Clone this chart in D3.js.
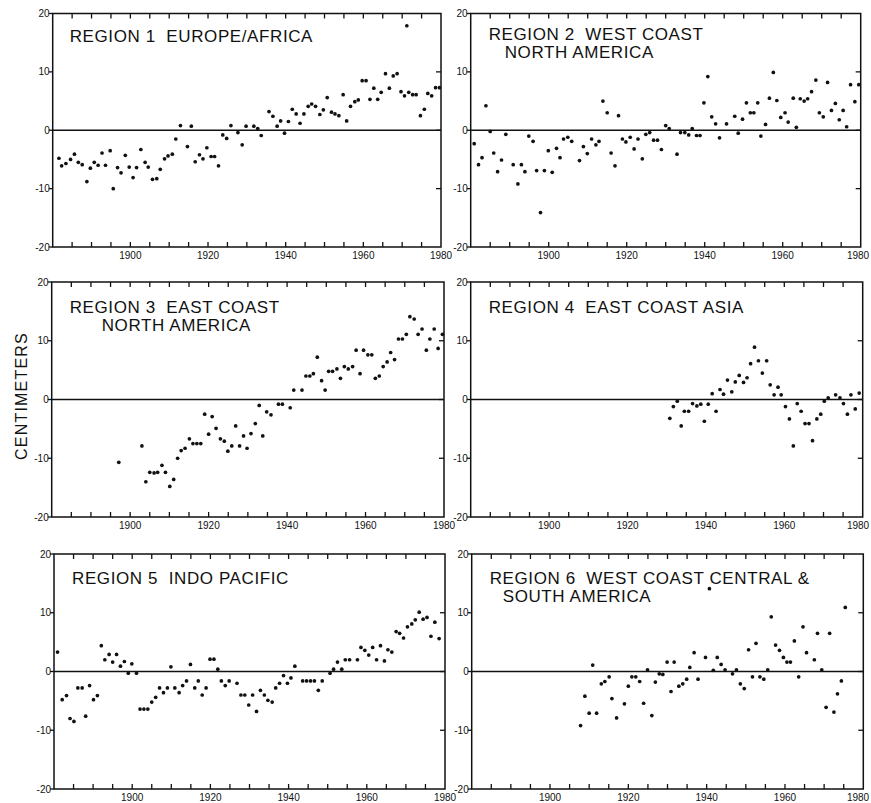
<!DOCTYPE html>
<html><head><meta charset="utf-8">
<script src="https://cdn.jsdelivr.net/npm/d3@7"></script>
<style>
body{margin:0;background:#fff}
svg{display:block}
text{font-family:"Liberation Sans",Arial,Helvetica,sans-serif;fill:#111}
</style>
</head><body><svg id="c" width="871" height="803"></svg>
<script>
// ---- data ----
const yearDomain = [1880, 1980];
const valueDomain = [-20, 20];
const labelYears = [1900, 1920, 1940, 1960, 1980];
const minorYears = d3.range(1885, 1980, 5);
const valueTicks = [-20, -10, 0, 10, 20];
const sideTicks = [-10, 0, 10];

const region1 = [[1881.6,-4.8],[1882.3,-6.1],[1883.4,-5.7],[1884.6,-5.0],[1885.6,-4.1],[1886.6,-5.5],[1887.6,-5.9],[1888.8,-8.8],[1889.7,-6.5],[1890.7,-5.5],[1891.7,-6.0],[1892.7,-3.9],[1893.6,-6.0],[1894.8,-3.5],[1895.6,-10.0],[1896.7,-6.4],[1897.6,-7.3],[1898.7,-4.3],[1899.7,-6.3],[1900.7,-8.1],[1901.6,-6.4],[1902.7,-3.3],[1903.8,-5.5],[1904.6,-6.3],[1905.7,-8.4],[1906.8,-8.3],[1907.7,-6.7],[1908.8,-4.9],[1909.7,-4.4],[1910.8,-4.1],[1911.7,-1.5],[1912.9,0.8],[1914.7,-2.8],[1915.7,0.7],[1916.7,-5.4],[1917.8,-4.2],[1918.7,-4.9],[1919.7,-3.0],[1920.8,-4.5],[1921.7,-4.5],[1922.7,-6.1],[1923.8,-0.8],[1924.8,-1.4],[1925.9,0.8],[1927.7,-0.4],[1928.8,-2.5],[1929.8,0.7],[1931.8,0.7],[1932.8,0.3],[1933.7,-0.9],[1935.7,3.2],[1936.7,2.4],[1937.8,0.7],[1938.7,1.6],[1939.7,-0.5],[1940.7,1.5],[1941.7,3.6],[1942.7,2.8],[1943.7,1.2],[1944.7,2.8],[1945.8,4.1],[1946.7,4.5],[1947.7,4.1],[1948.8,2.7],[1949.7,3.5],[1950.7,5.6],[1951.8,3.1],[1952.7,2.8],[1953.7,2.5],[1954.8,6.1],[1955.7,1.6],[1956.7,4.1],[1957.8,4.9],[1958.7,5.2],[1959.7,8.5],[1960.7,8.5],[1961.7,5.3],[1962.7,7.2],[1963.7,5.3],[1964.6,6.5],[1965.7,9.7],[1966.7,7.2],[1967.7,9.3],[1968.7,9.7],[1969.7,6.6],[1970.6,5.9],[1971.2,17.9],[1971.7,6.5],[1972.7,6.1],[1973.6,6.1],[1974.7,2.5],[1975.7,3.6],[1976.6,6.3],[1977.6,5.9],[1978.6,7.3],[1979.6,7.3]];

const region2 = [[1880.9,-2.3],[1882.0,-5.9],[1882.9,-4.7],[1883.9,4.2],[1885.0,-0.2],[1885.9,-3.9],[1886.9,-7.1],[1887.9,-5.1],[1889.0,-0.7],[1890.9,-5.9],[1892.1,-9.2],[1893.0,-5.9],[1893.9,-7.1],[1894.9,-1.0],[1896.0,-1.9],[1896.9,-6.9],[1897.9,-14.1],[1898.9,-6.9],[1899.9,-3.5],[1900.9,-7.2],[1902.0,-3.1],[1902.9,-4.7],[1903.8,-1.5],[1904.9,-1.2],[1905.9,-1.9],[1907.9,-5.2],[1908.9,-2.8],[1909.9,-4.0],[1911.0,-1.5],[1912.1,-2.5],[1912.9,-1.9],[1913.9,5.0],[1915.0,3.0],[1916.0,-3.9],[1917.0,-6.1],[1917.9,2.5],[1918.9,-1.5],[1919.8,-2.0],[1920.9,-1.2],[1921.9,-3.2],[1922.9,-1.5],[1924.0,-4.9],[1924.9,-0.7],[1925.9,-0.4],[1926.9,-1.7],[1927.9,-1.7],[1928.9,-3.3],[1930.0,0.8],[1930.9,0.3],[1932.9,-4.1],[1933.8,-0.4],[1934.9,-0.4],[1935.9,-0.8],[1936.8,0.3],[1937.9,-0.9],[1938.8,-0.9],[1939.8,4.7],[1940.8,9.2],[1941.8,2.3],[1942.8,1.1],[1943.8,-1.3],[1945.6,1.1],[1947.7,2.4],[1948.6,-0.5],[1949.7,1.9],[1950.7,4.7],[1951.7,3.0],[1952.6,3.0],[1953.6,4.7],[1954.4,-1.0],[1955.6,1.0],[1956.6,5.5],[1957.6,9.9],[1958.5,5.1],[1959.5,2.2],[1960.6,3.0],[1961.4,1.4],[1962.7,5.5],[1963.5,0.5],[1964.5,5.4],[1965.5,5.0],[1966.4,5.4],[1967.4,6.6],[1968.5,8.6],[1969.4,3.0],[1970.4,2.3],[1971.5,8.2],[1972.5,3.4],[1973.5,4.6],[1974.5,1.8],[1975.5,3.4],[1976.4,0.6],[1977.4,7.8],[1978.5,4.9],[1979.5,7.8]];

const region3 = [[1897.1,-10.7],[1903.0,-7.9],[1904.0,-14.0],[1905.0,-12.4],[1906.1,-12.5],[1907.0,-12.4],[1908.1,-11.2],[1909.0,-12.4],[1910.1,-14.8],[1911.1,-13.6],[1912.1,-10.0],[1913.0,-8.7],[1914.0,-8.3],[1915.1,-6.7],[1916.0,-7.5],[1917.0,-7.5],[1918.0,-7.5],[1919.0,-2.5],[1920.0,-5.9],[1920.9,-2.9],[1921.9,-4.9],[1923.0,-6.7],[1924.0,-7.1],[1924.9,-8.8],[1925.9,-7.9],[1926.9,-4.5],[1927.9,-7.9],[1928.9,-6.2],[1929.8,-8.3],[1930.8,-5.8],[1931.9,-4.1],[1932.9,-1.0],[1933.8,-6.2],[1934.8,-2.1],[1935.9,-2.6],[1937.8,-0.8],[1938.8,-0.8],[1940.8,-1.4],[1941.7,1.6],[1943.8,1.6],[1944.8,4.0],[1945.8,4.0],[1946.7,4.4],[1947.7,7.2],[1948.8,3.2],[1949.7,1.6],[1950.6,4.8],[1951.6,4.8],[1952.7,5.2],[1953.6,3.6],[1954.6,5.6],[1955.6,5.2],[1956.7,5.6],[1957.6,8.4],[1958.6,4.4],[1959.5,8.4],[1960.6,7.6],[1961.6,7.6],[1962.5,3.6],[1963.5,4.0],[1964.5,5.6],[1965.5,6.4],[1966.4,8.0],[1967.4,6.8],[1968.4,10.3],[1969.4,10.3],[1970.4,11.1],[1971.3,14.1],[1972.4,13.7],[1973.4,11.1],[1974.4,12.0],[1975.5,8.4],[1976.4,10.3],[1977.5,12.0],[1978.5,8.7],[1979.6,11.1]];

const region4 = [[1930.8,-3.2],[1931.7,-1.2],[1932.7,-0.3],[1933.7,-4.5],[1934.5,-2.0],[1935.6,-2.0],[1936.6,-0.7],[1937.7,-1.1],[1938.7,-0.8],[1939.6,-3.7],[1940.6,-0.8],[1941.6,1.0],[1942.6,-2.0],[1943.6,1.7],[1944.5,0.9],[1945.5,3.3],[1946.6,1.3],[1947.5,3.0],[1948.5,4.1],[1949.6,2.9],[1950.5,3.7],[1951.4,6.1],[1952.4,8.9],[1953.4,6.6],[1954.4,4.5],[1955.5,6.6],[1956.4,2.5],[1957.4,0.8],[1958.4,2.1],[1959.2,0.8],[1960.3,-1.2],[1961.3,-3.3],[1962.3,-7.9],[1963.3,-0.7],[1964.3,-2.0],[1965.3,-4.1],[1966.3,-4.1],[1967.2,-7.0],[1968.3,-3.3],[1969.3,-2.5],[1970.2,-0.3],[1971.2,0.3],[1973.1,0.8],[1974.2,0.3],[1975.1,-0.7],[1976.1,-2.5],[1977.0,0.8],[1978.1,-1.6],[1979.1,1.1]];

const region5 = [[1880.9,3.3],[1882.1,-4.8],[1883.2,-4.1],[1884.1,-8.0],[1885.1,-8.5],[1886.1,-2.8],[1887.2,-2.8],[1888.1,-7.6],[1889.1,-2.4],[1890.1,-4.8],[1891.1,-4.1],[1892.1,4.4],[1893.0,2.0],[1894.1,2.9],[1895.0,1.6],[1896.0,2.9],[1897.0,0.9],[1898.0,1.7],[1899.0,-0.3],[1899.9,1.3],[1901.1,-0.3],[1902.0,-6.4],[1903.0,-6.4],[1904.0,-6.4],[1905.0,-5.2],[1906.0,-4.4],[1907.0,-2.8],[1908.0,-3.6],[1909.0,-2.8],[1909.9,0.8],[1910.9,-2.8],[1912.0,-3.6],[1912.9,-2.4],[1913.9,-1.6],[1914.9,1.2],[1916.0,-2.8],[1916.9,-1.6],[1917.9,-4.0],[1918.9,-2.8],[1919.9,2.1],[1920.9,2.1],[1921.9,0.4],[1922.8,-1.6],[1923.8,-2.4],[1924.8,-1.6],[1926.8,-2.0],[1927.8,-4.0],[1928.8,-4.0],[1929.8,-5.7],[1930.8,-4.0],[1931.8,-6.8],[1932.8,-3.2],[1933.8,-4.0],[1934.7,-4.9],[1935.8,-5.2],[1936.7,-2.8],[1937.7,-2.0],[1938.7,-0.7],[1939.7,-2.0],[1940.6,-1.1],[1941.6,0.9],[1943.6,-1.6],[1944.6,-1.6],[1945.6,-1.6],[1946.6,-1.6],[1947.6,-3.2],[1948.6,-1.6],[1950.6,-0.3],[1951.5,0.4],[1952.5,1.6],[1953.6,0.4],[1954.5,2.0],[1955.6,2.0],[1957.6,2.0],[1958.5,4.1],[1959.5,3.6],[1960.5,2.8],[1961.5,4.1],[1962.5,2.0],[1963.5,4.4],[1964.5,1.8],[1965.4,3.7],[1966.4,3.3],[1967.5,6.8],[1968.4,6.5],[1969.4,5.7],[1970.4,7.6],[1971.5,8.1],[1972.4,8.8],[1973.4,10.1],[1974.4,8.9],[1975.4,9.2],[1976.4,6.0],[1977.4,8.4],[1978.5,5.6]];

const region6 = [[1907.8,-9.2],[1908.9,-4.2],[1910.0,-7.1],[1910.9,1.1],[1911.9,-7.1],[1913.1,-2.1],[1914.0,-1.7],[1915.1,-0.9],[1915.8,-4.6],[1917.0,-7.9],[1919.0,-5.5],[1920.0,-2.5],[1920.9,-0.9],[1921.9,-0.9],[1922.9,-1.7],[1923.9,-5.4],[1924.9,0.3],[1926.0,-7.5],[1926.9,-1.8],[1927.9,-0.4],[1928.8,-0.5],[1929.9,1.6],[1930.9,-3.4],[1931.7,1.6],[1932.9,-2.5],[1933.9,-2.1],[1934.9,-1.3],[1935.7,0.7],[1936.8,3.2],[1937.8,-1.3],[1939.7,2.4],[1940.7,14.1],[1941.7,0.2],[1942.7,2.4],[1943.7,1.2],[1944.7,0.3],[1946.6,-0.4],[1947.6,0.3],[1948.6,-2.1],[1949.6,-2.9],[1950.7,3.7],[1951.7,-0.9],[1952.6,4.8],[1953.6,-0.9],[1954.6,-1.3],[1955.6,0.3],[1956.5,9.3],[1957.6,4.5],[1958.6,3.6],[1959.6,2.4],[1960.5,1.6],[1961.4,1.6],[1962.4,5.2],[1963.5,-0.9],[1964.6,7.6],[1965.5,3.2],[1967.5,2.0],[1968.3,6.5],[1969.4,0.3],[1970.5,-6.1],[1971.4,6.5],[1972.5,-6.9],[1973.4,-3.8],[1974.4,-1.6],[1975.4,10.9]];

const titles = [
  ["REGION 1  EUROPE/AFRICA"],
  ["REGION 2  WEST COAST", "NORTH AMERICA"],
  ["REGION 3  EAST COAST", "NORTH AMERICA"],
  ["REGION 4  EAST COAST ASIA"],
  ["REGION 5  INDO PACIFIC"],
  ["REGION 6  WEST COAST CENTRAL &", "SOUTH AMERICA"]
];
const yAxisTitle = "CENTIMETERS";

// ---- layout ----
const W = 871;
const panels = [
  {x0:52.7, x1:441,   y0:13.5,  y1:247,   data:region1, title:titles[0], tx:17, ty:28.5, indent:0},
  {x0:470.7,x1:860.7, y0:13.5,  y1:247,   data:region2, title:titles[1], tx:18, ty:26,   indent:16},
  {x0:51.7, x1:444,   y0:282,   y1:517,   data:region3, title:titles[2], tx:18, ty:30.5, indent:32},
  {x0:470.7,x1:862.7, y0:282,   y1:517,   data:region4, title:titles[3], tx:18, ty:30.5, indent:0},
  {x0:54,   x1:445,   y0:554,   y1:789,   data:region5, title:titles[4], tx:18, ty:30,   indent:0},
  {x0:471.7,x1:863.3, y0:554,   y1:789,   data:region6, title:titles[5], tx:18, ty:29.5, indent:13}
];

const svg = d3.select("#c");
const ink = "#111";

panels.forEach(p => {
  const x = d3.scaleLinear().domain(yearDomain).range([p.x0, p.x1]);
  const y = d3.scaleLinear().domain(valueDomain).range([p.y1, p.y0]);
  const g = svg.append("g");

  // frame
  g.append("rect").attr("x", p.x0).attr("y", p.y0)
    .attr("width", p.x1 - p.x0).attr("height", p.y1 - p.y0)
    .attr("fill", "none").attr("stroke", ink).attr("stroke-width", 1.5);

  // top & bottom inward ticks
  g.selectAll(".tb").data(minorYears).join("line")
    .attr("x1", d => x(d)).attr("x2", d => x(d))
    .attr("y1", p.y1).attr("y2", p.y1 - 5)
    .attr("stroke", ink).attr("stroke-width", 1.3);
  g.selectAll(".tt").data(minorYears).join("line")
    .attr("x1", d => x(d)).attr("x2", d => x(d))
    .attr("y1", p.y0).attr("y2", p.y0 + 5)
    .attr("stroke", ink).attr("stroke-width", 1.3);

  // left ticks (outward) & right ticks (inward)
  g.selectAll(".tl").data(valueTicks).join("line")
    .attr("x1", p.x0 - 4).attr("x2", p.x0)
    .attr("y1", d => y(d)).attr("y2", d => y(d))
    .attr("stroke", ink).attr("stroke-width", 1.3);
  g.selectAll(".tr").data(sideTicks).join("line")
    .attr("x1", p.x1 - 5).attr("x2", p.x1)
    .attr("y1", d => y(d)).attr("y2", d => y(d))
    .attr("stroke", ink).attr("stroke-width", 1.3);

  // y labels
  g.selectAll(".yl").data(valueTicks).join("text")
    .attr("x", p.x0 - 3).attr("y", d => y(d)).attr("dy", "0.35em")
    .attr("text-anchor", "end").attr("font-size", 10)
    .text(d => d);

  // x labels (kept inside the page at the right edge)
  g.selectAll(".xl").data(labelYears).join("text")
    .attr("x", d => Math.min(x(d), W - 1 - 12))
    .attr("y", p.y1 + 12)
    .attr("text-anchor", "middle").attr("font-size", 10)
    .text(d => d);

  // zero line
  g.append("line").attr("x1", p.x0).attr("x2", p.x1)
    .attr("y1", y(0)).attr("y2", y(0))
    .attr("stroke", ink).attr("stroke-width", 1.7);

  // points
  g.selectAll("circle").data(p.data).join("circle")
    .attr("cx", d => x(d[0])).attr("cy", d => y(d[1]))
    .attr("r", 1.85).attr("fill", ink);

  // title
  p.title.forEach((line, i) => {
    g.append("text")
      .attr("x", p.x0 + p.tx + (i ? p.indent : 0))
      .attr("y", p.y0 + p.ty + i * 18.5)
      .attr("font-size", 17)
      .attr("letter-spacing", 0.6)
      .style("white-space", "pre")
      .text(line);
  });
});

svg.append("text")
  .attr("transform", "translate(26.5,396) rotate(-90)")
  .attr("text-anchor", "middle")
  .attr("font-size", 16)
  .attr("letter-spacing", 1.2)
  .text(yAxisTitle);
</script>
</body></html>
